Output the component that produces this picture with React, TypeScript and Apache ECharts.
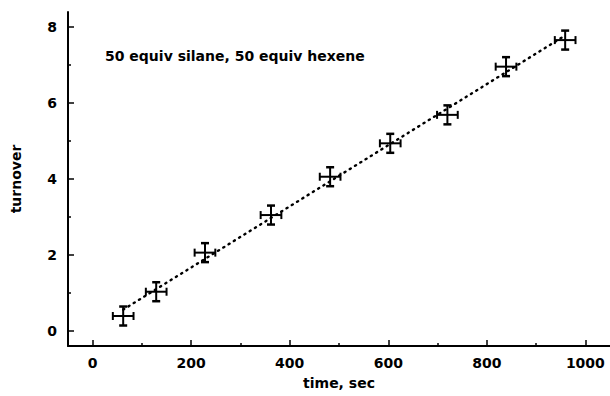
import React, { useEffect, useRef } from "react";
import * as echarts from "echarts";

const times = [62, 129, 228, 362, 482, 604, 720, 839, 959];
const turnover = [0.39, 1.03, 2.06, 3.05, 4.06, 4.94, 5.69, 6.96, 7.66];
const timeErr = [21, 21, 21, 21, 21, 21, 21, 21, 21];
const turnErr = [0.25, 0.25, 0.25, 0.25, 0.25, 0.25, 0.25, 0.25, 0.25];
const xMajor = [0, 200, 400, 600, 800, 1000];
const xMinor = [100, 300, 500, 700, 900];
const yMajor = [0, 2, 4, 6, 8];
const yMinor = [1, 3, 5, 7];
const annotation = "50 equiv silane, 50 equiv hexene";

const FONT = "'DejaVu Sans', sans-serif";

function fitLine(xs: number[], ys: number[]) {
  const n = xs.length;
  const mx = xs.reduce((a, b) => a + b, 0) / n;
  const my = ys.reduce((a, b) => a + b, 0) / n;
  let sxy = 0, sxx = 0;
  for (let i = 0; i < n; i++) {
    sxy += (xs[i] - mx) * (ys[i] - my);
    sxx += (xs[i] - mx) * (xs[i] - mx);
  }
  const b = sxy / sxx;
  const a = my - b * mx;
  const x0 = xs[0];
  const x1 = xs[n - 1];
  return [[x0, a + b * x0], [x1, a + b * x1]];
}

export default function App() {
  const ref = useRef<HTMLDivElement>(null);
  useEffect(() => {
    if (!ref.current) return;
    const chart = echarts.init(ref.current, null, { renderer: "svg" });
    const errData = times.map((t, i) => [t, turnover[i], timeErr[i], turnErr[i]]);
    const axisCommonX = {
      type: "value",
      min: -50,
      max: 1050,
      splitLine: { show: false },
    };
    const axisCommonY = {
      type: "value",
      min: -0.4,
      max: 8.4,
      splitLine: { show: false },
    };
    const labelStyle = { fontFamily: FONT, fontWeight: "bold", fontSize: 14, color: "#000" };
    chart.setOption({
      animation: false,
      backgroundColor: "#fff",
      grid: { left: 68, top: 12, right: 0, bottom: 50, containLabel: false },
      xAxis: [
        {
          ...axisCommonX,
          position: "bottom",
          name: "time, sec",
          nameLocation: "middle",
          nameGap: 30,
          nameTextStyle: { fontFamily: FONT, fontWeight: "bold", fontSize: 14, color: "#000" },
          axisLine: { show: true, onZero: false, lineStyle: { color: "#000", width: 2 } },
          axisTick: { show: true, inside: true, length: 6, customValues: xMajor, lineStyle: { color: "#000", width: 1.5 } },
          axisLabel: { show: true, customValues: xMajor, margin: 10, formatter: (v: number) => String(v), ...labelStyle },
        },
        {
          ...axisCommonX,
          position: "bottom",
          axisLine: { show: false, onZero: false },
          axisTick: { show: true, inside: true, length: 3, customValues: xMinor, lineStyle: { color: "#000", width: 1.5 } },
          axisLabel: { show: false },
        },
      ],
      yAxis: [
        {
          ...axisCommonY,
          position: "left",
          name: "turnover",
          nameLocation: "middle",
          nameGap: 45,
          nameRotate: 90,
          nameTextStyle: { fontFamily: FONT, fontWeight: "bold", fontSize: 14, color: "#000" },
          axisLine: { show: true, onZero: false, lineStyle: { color: "#000", width: 2 } },
          axisTick: { show: true, inside: true, length: 6, customValues: yMajor, lineStyle: { color: "#000", width: 1.5 } },
          axisLabel: { show: true, customValues: yMajor, margin: 11, formatter: (v: number) => String(v), ...labelStyle },
        },
        {
          ...axisCommonY,
          position: "left",
          axisLine: { show: false, onZero: false },
          axisTick: { show: true, inside: true, length: 3, customValues: yMinor, lineStyle: { color: "#000", width: 1.5 } },
          axisLabel: { show: false },
        },
      ],
      graphic: [
        {
          type: "text",
          left: 105,
          top: 49,
          style: { text: annotation, fontFamily: FONT, fontWeight: "bold", fontSize: 14, fill: "#000" },
        },
      ],
      series: [
        {
          type: "line",
          data: fitLine(times, turnover),
          showSymbol: false,
          symbol: "none",
          lineStyle: { color: "#000", width: 2.4, type: [1.2, 5], cap: "round" },
          silent: true,
          z: 1,
        },
        {
          type: "custom",
          data: errData,
          z: 3,
          renderItem: (params: any, api: any) => {
            const x = api.value(0);
            const y = api.value(1);
            const ex = api.value(2);
            const ey = api.value(3);
            const c = api.coord([x, y]);
            const l = api.coord([x - ex, y]);
            const r = api.coord([x + ex, y]);
            const t = api.coord([x, y + ey]);
            const b = api.coord([x, y - ey]);
            const cap = 4;
            const st = { stroke: "#000", lineWidth: 2 };
            return {
              type: "group",
              children: [
                { type: "line", shape: { x1: l[0], y1: c[1], x2: r[0], y2: c[1] }, style: st },
                { type: "line", shape: { x1: c[0], y1: t[1], x2: c[0], y2: b[1] }, style: st },
                { type: "line", shape: { x1: l[0], y1: c[1] - cap, x2: l[0], y2: c[1] + cap }, style: st },
                { type: "line", shape: { x1: r[0], y1: c[1] - cap, x2: r[0], y2: c[1] + cap }, style: st },
                { type: "line", shape: { x1: c[0] - cap, y1: t[1], x2: c[0] + cap, y2: t[1] }, style: { stroke: "#000", lineWidth: 2.5 } },
                { type: "line", shape: { x1: c[0] - cap, y1: b[1], x2: c[0] + cap, y2: b[1] }, style: { stroke: "#000", lineWidth: 2.5 } },
              ],
            };
          },
        },
      ],
    });
    return () => chart.dispose();
  }, []);
  return (
    <div
      ref={ref}
      style={{ position: "absolute", left: 0, top: 0, width: 610, height: 396, background: "#fff" }}
    />
  );
}
